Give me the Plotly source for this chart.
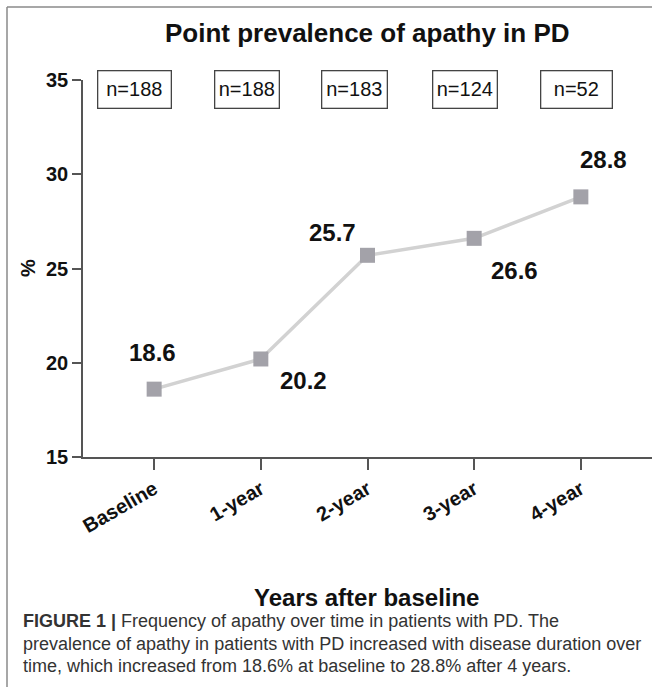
import plotly.graph_objects as go

categories = ["Baseline", "1-year", "2-year", "3-year", "4-year"]
prevalence = [18.6, 20.2, 25.7, 26.6, 28.8]
sample_sizes = ["n=188", "n=188", "n=183", "n=124", "n=52"]
y_ticks = [15, 20, 25, 30, 35]

W, H = 652, 687
L, R, T, B = 83, 0, 80, 230
pw, ph = W - L - R, H - T - B

def px(xp):
    return (xp - L) / pw

def py(yp):
    return (H - B - yp) / ph

xs = list(range(len(categories)))
FONT = "Liberation Sans, Arial"

fig = go.Figure()
fig.add_trace(go.Scatter(
    x=xs, y=prevalence, mode="lines+markers",
    line=dict(color="#d2d2d2", width=3.5),
    marker=dict(symbol="square", size=15, color="#a3a2a9"),
    showlegend=False, hoverinfo="skip", cliponaxis=False,
))

label_offsets = [(-2, 37), (43, -22), (-35, 23), (40, -32), (23, 37)]
annotations = []
for x, v, (dx, dy) in zip(xs, prevalence, label_offsets):
    annotations.append(dict(
        x=x, y=v, xref="x", yref="y", text=f"{v:.1f}", showarrow=False,
        xshift=dx, yshift=dy, xanchor="center", yanchor="middle",
        font=dict(family=FONT, size=24, color="#111111", weight="bold"),
    ))

box_shift = [-19.5, -14, -13.5, -9, -4.5]
box_w = [66, 57, 58, 57, 64]
for x, n, s, w in zip(xs, sample_sizes, box_shift, box_w):
    annotations.append(dict(
        x=x, y=py(89), xref="x", yref="paper", text=n, showarrow=False,
        xshift=s, width=w, height=30, borderpad=3, xanchor="center", yanchor="middle",
        bordercolor="#444444", borderwidth=1.3, bgcolor="white",
        font=dict(family=FONT, size=20, color="#111111"),
    ))

annotations.append(dict(
    x=px(367), y=py(33), xref="paper", yref="paper", showarrow=False,
    xanchor="center", yanchor="middle",
    text="Point prevalence of apathy in PD",
    font=dict(family=FONT, size=26, color="#111111", weight="bold"),
))
annotations.append(dict(
    x=px(366), y=py(597), xref="paper", yref="paper", showarrow=False,
    xanchor="center", yanchor="middle",
    text="Years after baseline",
    font=dict(family=FONT, size=24, color="#111111", weight="bold"),
))
annotations.append(dict(
    x=px(28), y=py(268), xref="paper", yref="paper", showarrow=False,
    xanchor="center", yanchor="middle",
    text="%", textangle=-90,
    font=dict(family=FONT, size=20, color="#111111", weight="bold"),
))

caption_lines = [
    "<b>FIGURE 1 |</b> Frequency of apathy over time in patients with PD. The",
    "prevalence of apathy in patients with PD increased with disease duration over",
    "time, which increased from 18.6% at baseline to 28.8% after 4 years.",
]
for i, line in enumerate(caption_lines):
    annotations.append(dict(
        x=px(21), y=py(621 + 22.5 * i), xref="paper", yref="paper", showarrow=False,
        xanchor="left", yanchor="middle", text=line,
        font=dict(family=FONT, size=18, color="#333333"),
    ))

shapes = [
    dict(type="line", xref="paper", yref="paper", x0=px(7), x1=px(W), y0=py(7), y1=py(7),
         line=dict(color="#8a8a8a", width=1.5)),
    dict(type="line", xref="paper", yref="paper", x0=px(7), x1=px(7), y0=py(7), y1=py(H),
         line=dict(color="#8a8a8a", width=1.5)),
]

fig.update_layout(
    width=W, height=H, margin=dict(l=L, r=R, t=T, b=B),
    paper_bgcolor="white", plot_bgcolor="white",
    annotations=annotations, shapes=shapes,
    xaxis=dict(
        range=[-0.667, 4.667], tickmode="array", tickvals=xs, ticktext=categories,
        tickangle=-30, showgrid=False, zeroline=False, showline=True,
        linecolor="#555555", linewidth=1.5, ticks="outside", ticklen=11,
        tickcolor="#555555", tickwidth=1.5,
        tickfont=dict(family=FONT, size=20, color="#111111", weight="bold"),
    ),
    yaxis=dict(
        range=[15, 35], tickmode="array", tickvals=y_ticks,
        showgrid=False, zeroline=False, showline=True,
        linecolor="#555555", linewidth=1.5, ticks="outside", ticklen=9,
        tickcolor="#555555", tickwidth=1.5,
        tickfont=dict(family=FONT, size=20, color="#111111", weight="bold"),
    ),
)

fig.write_html(
    "out.html",
    config={"displayModeBar": False},
    post_script="document.body.style.margin='0';document.body.style.overflow='hidden';",
)
